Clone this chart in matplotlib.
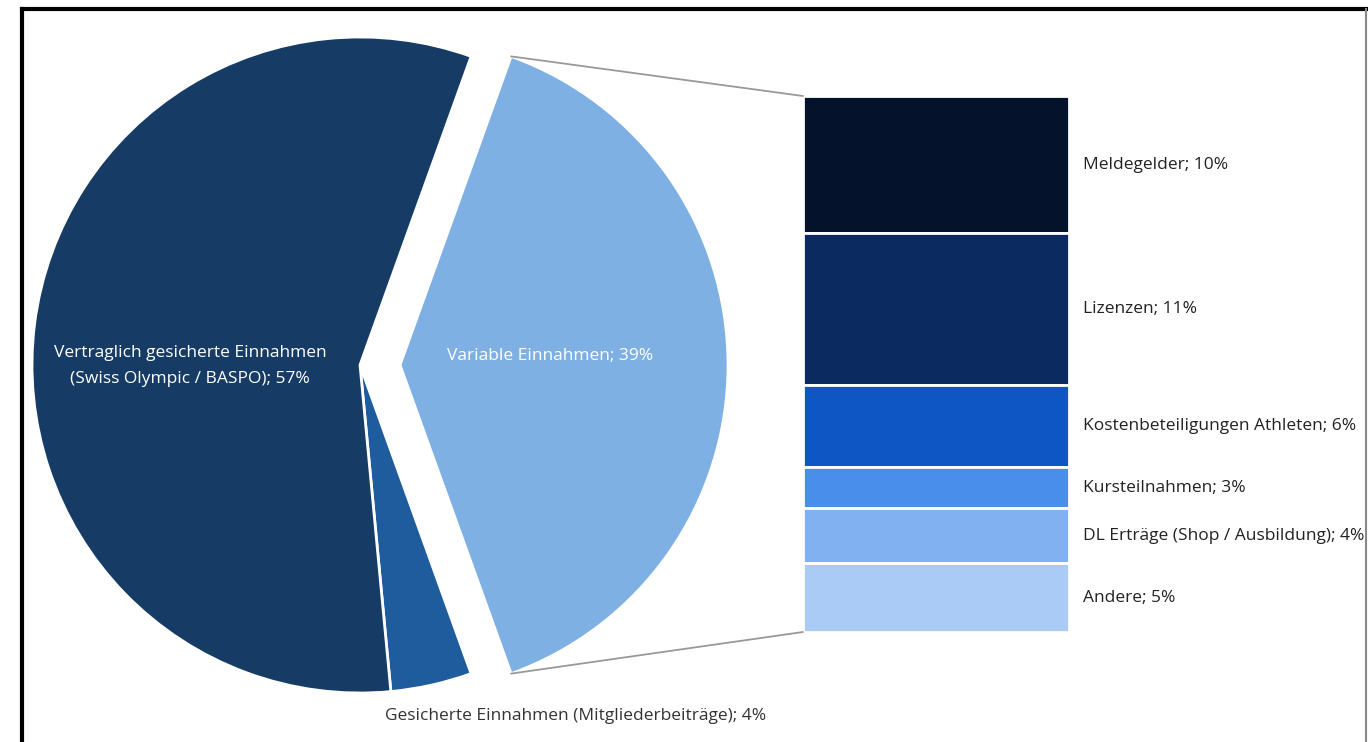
import numpy as np
import matplotlib
matplotlib.use("Agg")
import matplotlib.pyplot as plt
from matplotlib.patches import ConnectionPatch

plt.rcParams["font.family"] = ["Open Sans", "DejaVu Sans"]

# pie: main income groups (clockwise from the exploded slice)
pie_labels = ["Variable Einnahmen", "Gesicherte Einnahmen (Mitgliederbeiträge)",
              "Vertraglich gesicherte Einnahmen\n(Swiss Olympic / BASPO)"]
pie_values = [39, 4, 57]
pie_colors = ["#7FB0E4", "#1F5C9E", "#163C66"]

# breakdown of variable income (top to bottom)
sub_labels = ["Meldegelder", "Lizenzen", "Kostenbeteiligungen Athleten",
              "Kursteilnahmen", "DL Erträge (Shop / Ausbildung)", "Andere"]
sub_values = [10, 11, 6, 3, 4, 5]
sub_colors = ["#04132B", "#0A2A60", "#0E56C4", "#4A8EEC", "#82B1F2", "#ABCBF7"]

W, H = 1368, 742
fig = plt.figure(figsize=(W / 100, H / 100), dpi=100)

# main axes in pixel units (y up)
ax = fig.add_axes([0, 0, 1, 1])
ax.set_xlim(0, W)
ax.set_ylim(0, H)
ax.set_aspect("equal")
ax.axis("off")

cx, cy, r = 360, H - 365, 328
start = pie_values[0] / 100 * 360 / 2
# pie explode is absolute, so scale by radius
wedges, _ = ax.pie(pie_values, colors=pie_colors, startangle=start, counterclock=False,
                   center=(cx, cy), radius=r, explode=[0.122 * r, 0, 0],
                   wedgeprops=dict(edgecolor="white", linewidth=2))
ax.set_xlim(0, W)
ax.set_ylim(0, H)

fs = 12.5
ax.text(190, H - 366, f"{pie_labels[2]}; {pie_values[2]}%", color="white",
        ha="center", va="center", fontsize=fs, linespacing=1.9)
ax.text(550, H - 356, f"{pie_labels[0]}; {pie_values[0]}%", color="white",
        ha="center", va="center", fontsize=fs)
ax.text(576, H - 716, f"{pie_labels[1]}; {pie_values[1]}%", color="#333333",
        ha="center", va="center", fontsize=fs)

# stacked bar for the breakdown
bx0, bx1, by0, by1 = 803, 1069, 96, 632
axb = fig.add_axes([bx0 / W, (H - by1) / H, (bx1 - bx0) / W, (by1 - by0) / H])
total = sum(sub_values)
bottom = total
for lab, val, col in zip(sub_labels, sub_values, sub_colors):
    bottom -= val
    axb.bar(0.5, val, width=1, bottom=bottom, color=col, edgecolor="white", linewidth=2)
    axb.text(1.053, bottom + val / 2, f"{lab}; {val}%", transform=axb.get_yaxis_transform(),
             ha="left", va="center", fontsize=fs, color="#222222")
axb.set_xlim(0, 1)
axb.set_ylim(0, total)
axb.axis("off")

# connector lines from exploded wedge to bar
w = wedges[0]
wc = np.array(w.center)
for ang, ybar in [(w.theta2, total), (w.theta1, 0)]:
    p = wc + r * np.array([np.cos(np.radians(ang)), np.sin(np.radians(ang))])
    con = ConnectionPatch(xyA=tuple(p), coordsA=ax.transData, xyB=(0, ybar), coordsB=axb.transData,
                          color="#999999", linewidth=1.3)
    fig.add_artist(con)

# outer frame
fig.add_artist(plt.Line2D([22 / W, 22 / W], [0, 1 - 9 / H], color="black", linewidth=3))
fig.add_artist(plt.Line2D([22 / W, 1366 / W], [1 - 9 / H, 1 - 9 / H], color="black", linewidth=3))
fig.add_artist(plt.Line2D([1366 / W, 1366 / W], [0, 1 - 9 / H], color="#888888", linewidth=1.5))

fig.savefig("out.png", dpi=100)
